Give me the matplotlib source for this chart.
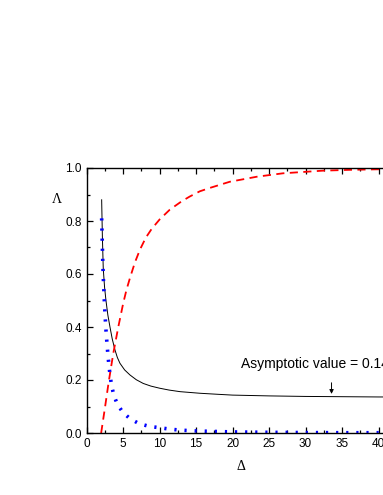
import matplotlib
matplotlib.use("Agg")
import matplotlib.pyplot as plt
from matplotlib.ticker import MultipleLocator, FormatStrFormatter

# Data
black_x = [2.05, 2.15, 2.27, 2.45, 2.64, 2.9, 3.19, 3.5, 3.88, 4.2, 4.56, 5.2, 5.93, 6.8, 7.75, 8.8, 10.0, 11.3, 12.8, 15.5, 18, 20, 25, 30, 35, 40, 45]
black_y = [0.88, 0.74, 0.62, 0.55, 0.50, 0.445, 0.40, 0.355, 0.313, 0.285, 0.263, 0.238, 0.219, 0.201, 0.187, 0.177, 0.169, 0.162, 0.156, 0.150, 0.146, 0.143, 0.140, 0.138, 0.137, 0.136, 0.136]

blue_x = [2.05, 2.1, 2.15, 2.2, 2.27, 2.35, 2.45, 2.55, 2.65, 2.8, 2.96, 3.19, 3.42, 3.74, 4.19, 4.93, 5.93, 7.2, 8.58, 9.95, 11.3, 12.7, 14.1, 15.2, 20, 25, 30, 35, 40, 45]
blue_y = [0.81, 0.76, 0.70, 0.65, 0.59, 0.54, 0.48, 0.43, 0.385, 0.33, 0.28, 0.22, 0.177, 0.141, 0.109, 0.079, 0.054, 0.035, 0.025, 0.02, 0.015, 0.011, 0.009, 0.0075, 0.004, 0.0025, 0.0015, 0.001, 0.001, 0.001]

red_x = [1.98, 2.5, 3.0, 3.64, 4.33, 5.0, 5.45, 5.93, 6.6, 7.3, 8.1, 8.9, 10.0, 11.4, 13.0, 14.1, 15.5, 16.9, 19.6, 23.3, 26.9, 32.4, 36, 39.7, 45]
red_y = [0.0, 0.095, 0.19, 0.30, 0.40, 0.489, 0.54, 0.585, 0.643, 0.692, 0.737, 0.770, 0.806, 0.843, 0.874, 0.892, 0.912, 0.925, 0.948, 0.967, 0.98, 0.99, 0.993, 0.995, 0.997]

asym_label = "Asymptotic value = 0.14"
asym_x = 33.56
asym_y = 0.137

fig = plt.figure(figsize=(3.83, 4.95), dpi=100)
ax = fig.add_axes([86.7/383, 1-433/495, (415-86.7)/383, (433-168)/495])

ax.plot(black_x, black_y, color="black", lw=0.7)
ax.plot(red_x, red_y, color="#ff0000", lw=1.3, linestyle=(0, (4.5, 3.0)))
ax.plot(blue_x, blue_y, color="#0000ff", lw=2.6, linestyle=(0, (0.6, 2.2)))

ax.set_xlim(0, 45)
ax.set_ylim(0, 1.0)
ax.xaxis.set_major_locator(MultipleLocator(5))
ax.xaxis.set_minor_locator(MultipleLocator(2.5))
ax.yaxis.set_major_locator(MultipleLocator(0.2))
ax.yaxis.set_minor_locator(MultipleLocator(0.1))
ax.yaxis.set_major_formatter(FormatStrFormatter('%.1f'))

ax.tick_params(which="both", direction="in", top=True, right=False,
               labelsize=8.5, width=0.9)
ax.tick_params(which="major", length=4)
ax.tick_params(which="minor", length=2.5)
for lab in ax.get_xticklabels() + ax.get_yticklabels():
    lab.set_family("Liberation Sans")
ax.spines["right"].set_visible(False)
for s in ["left", "bottom", "top"]:
    ax.spines[s].set_linewidth(1.0)

ax.text(21.1, 0.245, asym_label, fontsize=10, family="Liberation Sans", va="baseline")
ax.annotate("", xy=(asym_x, asym_y), xytext=(asym_x, 0.2),
            arrowprops=dict(arrowstyle="-|>", color="black", lw=0.7,
                            mutation_scale=6))

fig.text(57/383, 1-200/495, "Λ", fontsize=10, family="Liberation Serif", ha="center", va="center")
fig.text(241/383, 1-466/495, "Δ", fontsize=10, family="Liberation Serif", ha="center", va="center")

fig.savefig("out.png", dpi=100)
